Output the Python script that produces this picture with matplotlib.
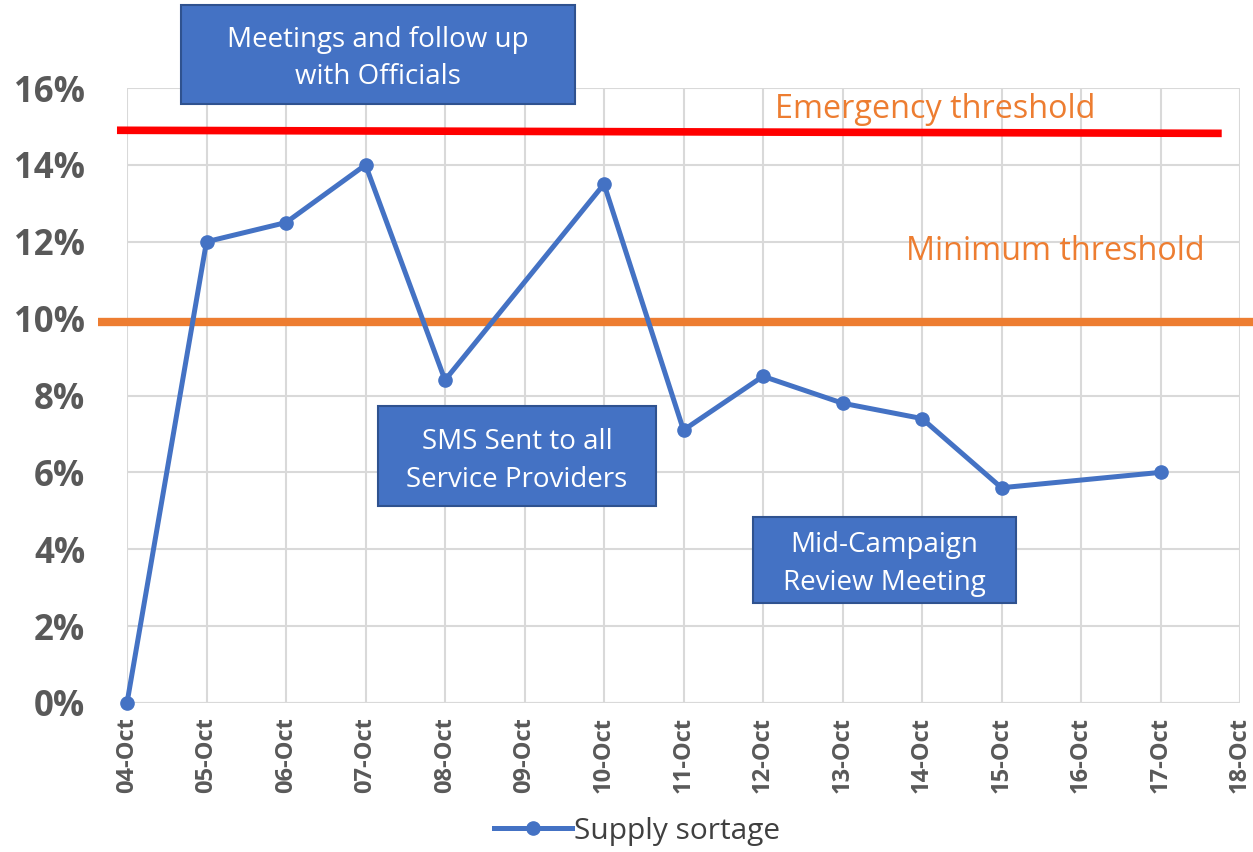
import numpy as np
import matplotlib
matplotlib.use("Agg")
import matplotlib.pyplot as plt
from matplotlib.patches import Rectangle

dates = ["04-Oct", "05-Oct", "06-Oct", "07-Oct", "08-Oct", "09-Oct", "10-Oct",
         "11-Oct", "12-Oct", "13-Oct", "14-Oct", "15-Oct", "16-Oct", "17-Oct", "18-Oct"]
shortage = [0.0, 12.0, 12.5, 14.0, 8.4, np.nan, 13.5, 7.1, 8.5, 7.8, 7.4, 5.6, np.nan, 6.0, np.nan]
emergency_threshold = [14.9, 14.82]
minimum_threshold = 9.9
y_ticks = [0, 2, 4, 6, 8, 10, 12, 14, 16]

plt.rcParams['font.family'] = ['Open Sans', 'DejaVu Sans']

fig = plt.figure(figsize=(12.53, 8.52), dpi=100)
ax = fig.add_axes([127/1253, 1-703/852, (1240-127)/1253, (703-88)/852])

x = np.arange(len(dates))
vals = np.array(shortage, dtype=float)
m = ~np.isnan(vals)
ax.plot(x[m], vals[m], color="#4472C4", lw=3.6, marker="o", ms=9.5,
        label="Supply sortage", zorder=5, clip_on=False)

ax.set_xlim(0, len(dates)-1)
ax.set_ylim(0, 16)
ax.set_xticks(x)
ax.set_xticklabels(dates, rotation=90, fontsize=17, fontweight="bold", color="#595959")
ax.set_yticks(y_ticks)
ax.set_yticklabels([f"{v}%" for v in y_ticks], fontsize=25, fontweight="bold", color="#595959")
ax.tick_params(length=0, pad=10)
ax.tick_params(axis='y', pad=30)
ax.grid(True, color="#D9D9D9", lw=1.5)
for s in ax.spines.values():
    s.set_visible(False)
ax.axhline(0, color="#D9D9D9", lw=1.5, zorder=1)

# threshold lines
ax.plot([-0.126, 13.77], emergency_threshold, color="#FF0000", lw=5.5, clip_on=False, zorder=4,
        solid_capstyle="butt")
ax.plot([-0.365, 14.17], [minimum_threshold, minimum_threshold], color="#ED7D31", lw=6,
        clip_on=False, zorder=4, solid_capstyle="butt")

fig.text(935/1253, 1-110/852, "Emergency threshold", color="#ED7D31", fontsize=23.3,
         ha="center", va="center")
fig.text(1055/1253, 1-252/852, "Minimum threshold", color="#ED7D31", fontsize=23.3,
         ha="center", va="center")

def box(x0, y0, x1, y1, text, dy):
    r = Rectangle((x0/1253, 1-y1/852), (x1-x0)/1253, (y1-y0)/852, transform=fig.transFigure,
                  facecolor="#4472C4", edgecolor="#2F528F", lw=1.5, zorder=10)
    fig.patches.append(r)
    fig.text((x0+x1)/2/1253, 1-((y0+y1)/2+dy)/852, text, color="white", fontsize=20,
             ha="center", va="center", linespacing=1.45, zorder=11)

box(181, 5, 575, 104, "Meetings and follow up\nwith Officials", 4)
box(378, 406, 656, 506, "SMS Sent to all\nService Providers", 5)
box(753, 517, 1016, 603, "Mid-Campaign\nReview Meeting", 4)

leg = fig.legend(loc="center", bbox_to_anchor=(637/1253, 1-831/852), frameon=False,
                 handlelength=2.6, handletextpad=0.05,
                 prop={"family": ["Open Sans", "DejaVu Sans"], "size": 21.5})
for t in leg.get_texts():
    t.set_color("#404040")

fig.savefig("out.png", dpi=100)
